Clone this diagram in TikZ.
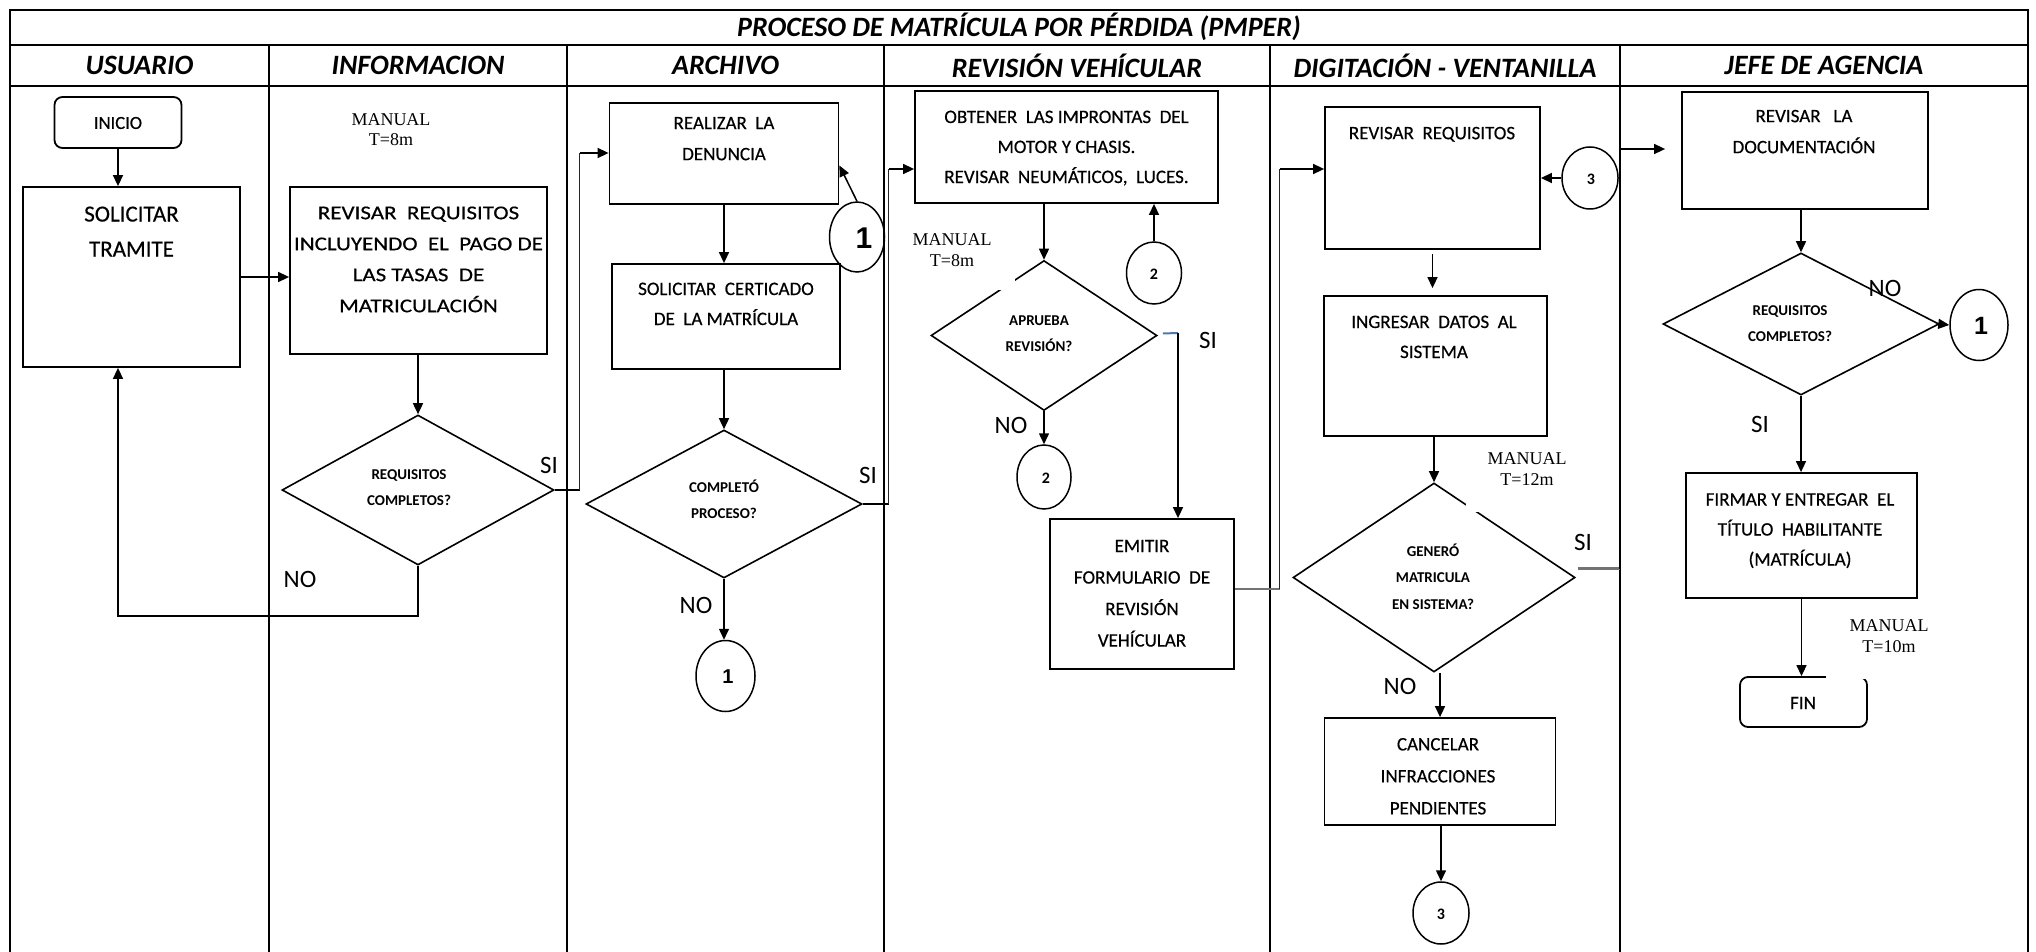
\documentclass[tikz,border=0pt]{standalone}
\usepackage{fontspec}
\setmainfont{Carlito}
\newfontfamily\boxf{Carlito}[FakeBold=0.5]
\newfontfamily\boxw{Carlito}[FakeBold=0.5, FakeStretch=1.18]
\newfontfamily\timesf{Liberation Serif}
\newfontfamily\arialf{Liberation Sans}
\usetikzlibrary{shapes.geometric,arrows.meta}

\begin{document}
\begin{tikzpicture}[x=1pt,y=-1pt,
  frame/.style={line width=1.8pt},
  lane/.style={line width=1.6pt},
  box/.style={draw, line width=1.8pt, inner sep=0pt},
  rbox/.style={box, rounded corners=8pt},
  dec/.style={draw, diamond, line width=1.6pt, inner sep=0pt},
  conn/.style={draw, ellipse, line width=1.5pt, inner sep=0pt},
  arr/.style={line width=1.5pt, -{Triangle[length=11pt,width=10pt]}},
  plain/.style={line width=1.5pt},
  dbl/.style={draw=black!85, line width=0.8pt, double=white, double distance=0.9pt},
  gry/.style={draw=black!55, line width=2.6pt},
  stub/.style={draw={rgb,255:red,80;green,120;blue,175}, line width=2pt},
  btxt/.style={align=center, font=\boxf\fontsize{19}{31}\selectfont, inner sep=0pt},
  dtxt/.style={align=center, font=\bfseries\fontsize{15}{26}\selectfont, inner sep=0pt},
  yn/.style={font=\fontsize{25}{25}\selectfont, inner sep=0pt},
  man/.style={align=center, font=\timesf\fontsize{18}{20.5}\selectfont, inner sep=0pt},
  head/.style={font=\bfseries\itshape\fontsize{28}{28}\selectfont, inner sep=0pt},
  patch/.style={fill=white, draw=none}
]
\useasboundingbox (0,0) rectangle (2036,952);

% ---------- swimlane frame ----------
\draw[frame] (10,960) -- (10,10) -- (2028,10) -- (2028,960);
\draw[frame] (10,45) -- (2028,45);
\draw[frame] (10,86) -- (2028,86);
\foreach \x in {269,567,884,1270,1620} \draw[lane] (\x,45) -- (\x,960);

\node[head] (title) at (1019,27) {PROCESO DE MATRÍCULA POR PÉRDIDA (PMPER)};
\node[head] (h1) at (139.5,65.5) {USUARIO};
\node[head] (h2) at (418,65.5) {INFORMACION};
\node[head] (h3) at (725.5,65.5) {ARCHIVO};
\node[head] (h4) at (1077,65.5) {REVISIÓN VEHÍCULAR};
\node[head] (h5) at (1445,65.5) {DIGITACIÓN - VENTANILLA};
\node[head] (h6) at (1824,65.5) {JEFE DE AGENCIA};

% ---------- process boxes ----------
\node[rbox, minimum width=127pt, minimum height=51pt] (ini) at (118,122.5) {};
\node[box, minimum width=217pt, minimum height=180pt] (sol) at (131.5,277) {};
\node[box, minimum width=257pt, minimum height=167pt] (rev1) at (418.5,270.5) {};
\node[box, minimum width=229pt, minimum height=101pt] (real) at (724,153.5) {};
\node[box, minimum width=228pt, minimum height=105pt] (solc) at (726,316.5) {};
\node[box, minimum width=303pt, minimum height=112pt] (obt) at (1066.5,147) {};
\node[box, minimum width=184pt, minimum height=150pt] (emi) at (1142,594) {};
\node[box, minimum width=215pt, minimum height=142pt] (revreq) at (1432.5,178) {};
\node[box, minimum width=223pt, minimum height=140pt] (ing) at (1435.5,366) {};
\node[box, minimum width=231pt, minimum height=107pt] (canc) at (1440,771.5) {};
\node[box, minimum width=246pt, minimum height=117pt] (revdoc) at (1805,150.5) {};
\node[box, minimum width=231pt, minimum height=125pt] (fir) at (1801.5,535.5) {};
\node[rbox, minimum width=127pt, minimum height=50pt] (fin) at (1803.5,702) {};

% ---------- decisions ----------
\node[dec, minimum width=272pt, minimum height=150pt] (d1) at (418,490) {};
\node[dec, minimum width=276pt, minimum height=148pt] (d2) at (724,504) {};
\node[dec, minimum width=226pt, minimum height=150pt] (d3) at (1044,335.5) {};
\node[dec, minimum width=282pt, minimum height=189pt] (d4) at (1434,577.5) {};
\node[dec, minimum width=276pt, minimum height=142pt] (d5) at (1801,324) {};

% ---------- page connectors ----------
\node[conn, minimum width=55pt, minimum height=70pt] (c1a) at (857,237) {};
\node[conn, minimum width=59pt, minimum height=71pt] (c1b) at (725.5,676) {};
\node[conn, minimum width=55pt, minimum height=62pt] (c2a) at (1154,273) {};
\node[conn, minimum width=54pt, minimum height=64pt] (c2b) at (1044,477) {};
\node[conn, minimum width=56pt, minimum height=62pt] (c3a) at (1590,178) {};
\node[conn, minimum width=56pt, minimum height=62pt] (c3b) at (1441,913) {};
\node[conn, minimum width=58pt, minimum height=71pt] (c1c) at (1979,325) {};

% ---------- flow ----------
\draw[arr] (ini.south) -- (ini.south |- sol.north);
\draw[arr] (sol.east) -- (sol.east -| rev1.west);
\draw[arr] (d1.north |- rev1.south) -- (d1.north);
\draw[arr] (d1.south) -- ++(0,50) -| (ini.south |- sol.south);
\coordinate (k1) at (580,153);
\draw[plain] (d1.east) -- (d1.east -| k1);
\draw[dbl] (d1.east -| k1) -- (k1);
\draw[arr] (k1) -- (k1 -| real.west);

\draw[arr] (real.south) -- (real.south |- solc.north);
\draw[arr] (c1a.north) -- ([yshift=-12pt]real.east);
\draw[arr] (d2.north |- solc.south) -- (d2.north);
\draw[arr] (d2.south) -- (d2.south |- c1b.north);
\coordinate (k2) at (889,169);
\draw[plain] (d2.east) -- (d2.east -| k2);
\draw[dbl] (d2.east -| k2) -- (k2);
\draw[arr] (k2) -- (k2 -| obt.west);

\draw[arr] (d3.north |- obt.south) -- (d3.north);
\draw[arr] (c2a.north) -- (c2a.north |- obt.south);
\draw[arr] (d3.south) -- (c2b.north);
\coordinate (k3) at (1178,333);
\draw[stub] ([xshift=5pt,yshift=2pt]d3.east) -- (k3);
\draw[arr] (k3) -- (k3 |- emi.north);

\coordinate (k4) at (1280,169);
\draw[gry] ([yshift=5pt]emi.east) -- ([yshift=5pt]emi.east -| k4);
\draw[dbl] ([yshift=5pt]emi.east -| k4) -- (k4);
\draw[arr] (k4) -- (k4 -| revreq.west);

\draw[arr] (c3a.west) -- (c3a.west -| revreq.east);
\draw[arr, shorten <=4pt, shorten >=7pt] (revreq.south) -- (revreq.south |- ing.north);
\draw[arr] (d4.north |- ing.south) -- (d4.north);
\draw[arr] (d4.south -| canc.north) -- (canc.north);
\draw[arr] (c3b.north |- canc.south) -- (c3b.north);
\coordinate (k5) at (1620,149);
\draw[gry] ([xshift=2pt,yshift=9pt]d4.east) -- ([yshift=9pt]d4.east -| k5);
\draw[line width=2.4pt] ([yshift=9pt]d4.east -| k5) -- (k5);
\draw[arr, shorten >=16pt] (k5) -- (k5 -| revdoc.west);

\draw[arr] (d5.north |- revdoc.south) -- (d5.north);
\draw[arr] (d5.east) -- (c1c.west);
\draw[arr] (d5.south) -- (d5.south |- fir.north);
\draw[arr] (fir.south) -- (fir.south |- fin.north);

% ---------- white backing of the time notes ----------
\fill[patch] (891,218) rectangle (1015,290);
\fill[patch] (1466,440) rectangle (1588,512);
\fill[patch] (1826,603) rectangle (1955,679);

% ---------- texts ----------
\node[btxt, font=\boxf\fontsize{18.5}{31}\selectfont] (ini-t) at (118,123) {INICIO};
\node[btxt, font=\boxf\fontsize{23}{35}\selectfont] (sol-t) at (131.5,232) {\strut SOLICITAR\\TRAMITE\strut};
\node[btxt, font=\boxw\fontsize{19.5}{31}\selectfont] (rev1-t) at (418.5,259.5) {\strut REVISAR~~REQUISITOS\\INCLUYENDO~~EL~~PAGO DE\\LAS TASAS~~DE\\MATRICULACIÓN\strut};
\node[btxt] (real-t) at (724,138.5) {\strut REALIZAR~~LA\\DENUNCIA\strut};
\node[btxt, font=\boxf\fontsize{19}{30}\selectfont] (solc-t) at (726,304) {\strut SOLICITAR~~CERTICADO\\DE~~LA MATRÍCULA\strut};
\node[btxt, font=\boxf\fontsize{19}{30}\selectfont] (obt-t) at (1066.5,147) {\strut OBTENER~~LAS IMPRONTAS~~DEL\\MOTOR Y CHASIS.\\REVISAR~~NEUMÁTICOS,~~LUCES.\strut};
\node[btxt, font=\boxf\fontsize{19}{31.5}\selectfont] (emi-t) at (1142,593) {\strut EMITIR\\FORMULARIO~~DE\\REVISIÓN\\VEHÍCULAR\strut};
\node[btxt] (revreq-t) at (1432,133) {\strut REVISAR~~REQUISITOS\strut};
\node[btxt, font=\boxf\fontsize{19}{30}\selectfont] (ing-t) at (1434,337) {\strut INGRESAR~~DATOS~~AL\\SISTEMA\strut};
\node[btxt, font=\boxf\fontsize{19}{32}\selectfont] (canc-t) at (1438,776) {\strut CANCELAR\\INFRACCIONES\\PENDIENTES\strut};
\node[btxt] (revdoc-t) at (1804,131.5) {\strut REVISAR~~~LA\\DOCUMENTACIÓN\strut};
\node[btxt, font=\boxf\fontsize{19}{30}\selectfont] (fir-t) at (1800,529.5) {\strut FIRMAR~Y ENTREGAR~~EL\\TÍTULO~~HABILITANTE\\(MATRÍCULA)\strut};
\node[btxt] (fin-t) at (1803,703) {FIN};

\node[dtxt] (d1-t) at (409,487) {\strut REQUISITOS\\COMPLETOS?\strut};
\node[dtxt] (d2-t) at (724,500) {\strut COMPLETÓ\\PROCESO?\strut};
\node[dtxt] (d3-t) at (1039,333.5) {\strut APRUEBA\\REVISIÓN?\strut};
\node[dtxt, font=\bfseries\fontsize{15}{26.5}\selectfont] (d4-t) at (1433,577.5) {\strut GENERÓ\\MATRICULA\\EN SISTEMA?\strut};
\node[dtxt] (d5-t) at (1790,323.5) {\strut REQUISITOS\\COMPLETOS?\strut};

\node[font=\arialf\bfseries\fontsize{30}{30}\selectfont, inner sep=0pt] (c1a-t) at (864,238) {1};
\node[font=\arialf\bfseries\fontsize{20}{20}\selectfont, inner sep=0pt] (c1b-t) at (728,677) {1};
\node[font=\arialf\bfseries\fontsize{25}{25}\selectfont, inner sep=0pt] (c1c-t) at (1981,326) {1};
\node[font=\bfseries\fontsize{16}{16}\selectfont, inner sep=0pt] (c2a-t) at (1154,274) {2};
\node[font=\bfseries\fontsize{16}{16}\selectfont, inner sep=0pt] (c2b-t) at (1046,478) {2};
\node[font=\bfseries\fontsize{16}{16}\selectfont, inner sep=0pt] (c3a-t) at (1591,179) {3};
\node[font=\bfseries\fontsize{16}{16}\selectfont, inner sep=0pt] (c3b-t) at (1441,914) {3};

\node[yn] (si1) at (549,465) {SI};
\node[yn] (no1) at (300,579) {NO};
\node[yn] (si2) at (868,475) {SI};
\node[yn] (no2) at (696,605) {NO};
\node[yn] (si3) at (1208,340) {SI};
\node[yn] (no3) at (1011,425) {NO};
\node[yn] (si4) at (1583,542) {SI};
\node[yn] (no4) at (1400,686) {NO};
\node[yn] (no5) at (1885,288) {NO};
\node[yn] (si5) at (1760,424) {SI};

\node[man] (m1) at (391,129.5) {MANUAL\\T=8m};
\node[man] (m2) at (952,250) {MANUAL\\T=8m};
\node[man] (m3) at (1527,469) {MANUAL\\T=12m};
\node[man] (m4) at (1889,636) {MANUAL\\T=10m};
\end{tikzpicture}
\end{document}
